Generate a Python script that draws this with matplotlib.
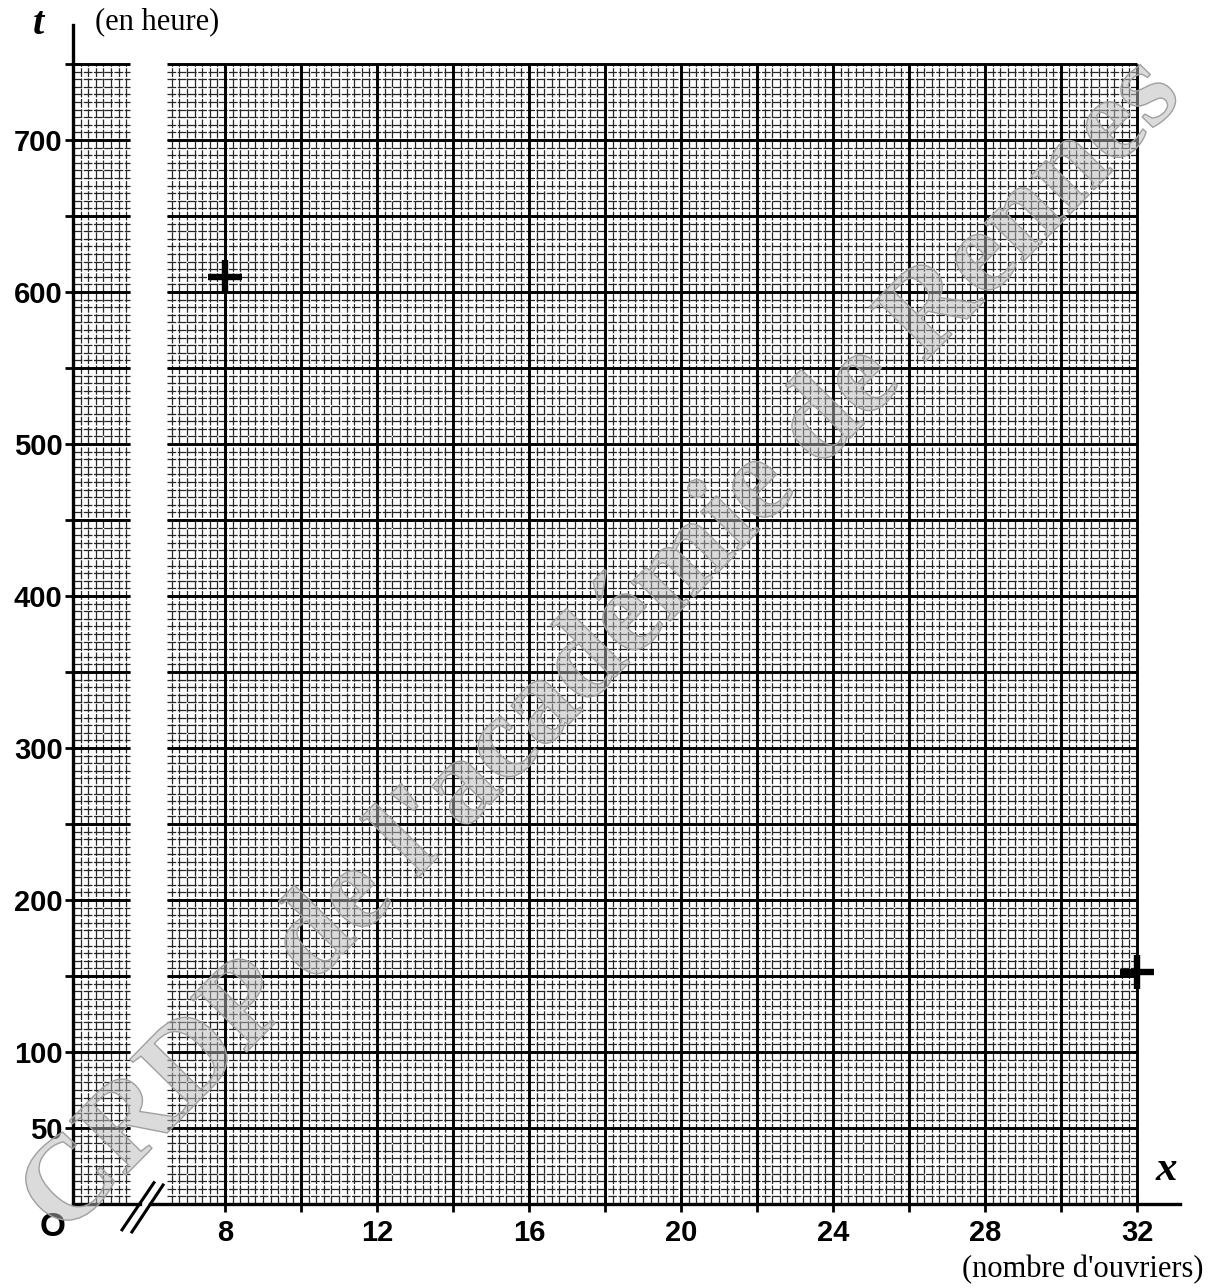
import numpy as np
import matplotlib
matplotlib.use("Agg")
import matplotlib.pyplot as plt
import matplotlib.patheffects as pe

# measured points (nombre d'ouvriers, durée en heures)
x_points = [8, 32]
t_points = [610, 152.5]

x_labels = [8, 12, 16, 20, 24, 28, 32]
x_ticks = np.arange(8, 33, 2)
t_labels = [50, 100, 200, 300, 400, 500, 600, 700]
t_ticks = np.arange(50, 751, 50)

W, H = 1215, 1288
fig = plt.figure(figsize=(W / 100, H / 100), dpi=100)
ax = fig.add_axes([73 / W, 84 / H, 1107 / W, 1179 / H])
ax.set_xlim(4, 4 + 1107 / 38)
ax.set_ylim(0, 1179 / 1.52)

# millimetre paper: left strip next to the axis, then the broken part
strip = (4, 5.5)
main = (6.47, 32)
minor_kw = dict(colors="#262626", linewidth=0.9, linestyles=(0, (7, 1.2)),
                zorder=1)
major_kw = dict(colors="black", linewidth=2.1, zorder=2)

ax.vlines(np.arange(4.2, 5.45, 0.2), 0, 750, **minor_kw)
ax.vlines(np.arange(6.6, 31.9, 0.2), 0, 750, **minor_kw)
ax.vlines(x_ticks, 0, 750, **major_kw)
for x0, x1 in (strip, main):
    ax.hlines(np.arange(5, 750, 5), x0, x1, **minor_kw)
    ax.hlines(t_ticks, x0, x1, **major_kw)

# points
ax.plot(x_points, t_points, "+", color="black", markersize=25,
        markeredgewidth=4.6, zorder=5, clip_on=False)

# axes
for s in ("top", "right", "bottom"):
    ax.spines[s].set_visible(False)
ax.spines["left"].set_linewidth(2.4)
ax.spines["left"].set_zorder(6)
ax.plot([4, 5.76], [0, 0], color="black", lw=2.4, zorder=6, clip_on=False)
ax.plot([6.02, ax.get_xlim()[1]], [0, 0], color="black", lw=2.4, zorder=6,
        clip_on=False)
# break marks
ax.plot([5.29, 6.13], [-17, 14], color="black", lw=2.2, zorder=6, clip_on=False)
ax.plot([5.55, 6.37], [-18.4, 12.5], color="black", lw=2.2, zorder=6, clip_on=False)

ax.set_xticks(x_ticks)
ax.set_xticklabels([str(v) if v in x_labels else "" for v in x_ticks])
ax.set_yticks(t_ticks)
ax.set_yticklabels([str(v) if v in t_labels else "" for v in t_ticks])
ax.tick_params(direction="inout", length=11, width=2, colors="black")
ax.tick_params(axis="x", pad=5)
ax.tick_params(axis="y", pad=2)
for lab in ax.get_xticklabels() + ax.get_yticklabels():
    lab.set_fontfamily("Liberation Sans")
    lab.set_fontweight("bold")
    lab.set_fontsize(21)

fig.text(53 / W, 1 - 1227 / H, "O", fontsize=24, fontweight="bold",
         family="Liberation Sans", ha="center", va="center")
fig.text(38 / W, 1 - 24 / H, "t", fontsize=29, fontweight="bold",
         style="italic", family="Liberation Serif", ha="center", va="center")
fig.text(95 / W, 1 - 22 / H, "(en heure)", fontsize=22,
         family="Liberation Serif", ha="left", va="center")
fig.text(1166 / W, 1 - 1170 / H, "x", fontsize=31, fontweight="bold",
         style="italic", family="Liberation Serif", ha="center", va="center")
fig.text(1203 / W, 1 - 1270 / H, "(nombre d'ouvriers)", fontsize=22,
         family="Liberation Serif", ha="right", va="center")

# watermark
fig.text(0.497, 0.497, "CRDP de l'académie de Rennes", fontsize=86,
         family="Liberation Serif", fontweight="bold", rotation=45.5,
         rotation_mode="anchor", ha="center", va="center", zorder=10,
         path_effects=[pe.PathPatchEffect(edgecolor="#a0a0a0",
                                          facecolor=(0.72, 0.72, 0.72, 0.5),
                                          linewidth=1.0)])

fig.savefig("out.png", dpi=100)
